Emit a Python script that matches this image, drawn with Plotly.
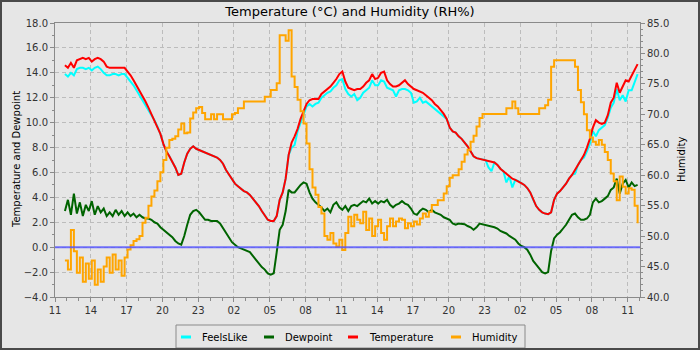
import pandas as pd
import plotly.graph_objects as go

# Weather station readings, one sample every 15 minutes
start_time = "2024-03-14 11:50"
axis_start = "2024-03-14 11:00"
axis_end = "2024-03-16 12:02"

series_names = ["FeelsLike", "Dewpoint", "Temperature", "Humidity"]
series_colors = ["#00ffff", "#006400", "#ff0000", "#ffa500"]
series_shapes = ["linear", "linear", "linear", "hv"]

temperature = [
    14.6, 14.4, 14.8, 14.4, 15.0, 15.1, 15.2, 15.1,
    15.2, 14.9, 15.1, 15.2, 15.1, 14.9, 14.5, 14.4,
    14.4, 14.4, 14.4, 14.4, 14.4, 14.1, 13.8, 13.4,
    13.0, 12.6, 12.2, 11.7, 11.2, 10.7, 10.2, 9.7,
    9.1, 8.3, 7.7, 7.3, 6.9, 6.4, 5.8, 5.9,
    6.8, 7.5, 7.9, 8.1, 7.9, 7.8, 7.7, 7.6,
    7.5, 7.4, 7.3, 7.2, 7.0, 6.7, 6.2, 5.8,
    5.4, 5.1, 4.9, 4.7, 4.5, 4.4, 4.2, 3.9,
    3.6, 3.3, 2.9, 2.5, 2.2, 2.1, 2.1, 2.5,
    3.8, 4.4, 5.5, 7.4, 8.4, 8.9, 9.5, 10.3,
    10.9, 11.5, 11.8, 11.9, 11.9, 11.9, 12.3, 12.5,
    12.7, 12.9, 13.2, 13.5, 13.9, 14.1, 13.3, 12.8,
    12.7, 12.6, 12.7, 12.7, 12.9, 13.2, 13.4, 13.9,
    13.5, 13.6, 14.0, 14.1, 13.4, 13.1, 12.9, 12.9,
    13.0, 13.2, 13.4, 13.1, 12.9, 12.7, 12.6, 12.5,
    12.4, 12.2, 12.0, 11.8, 11.5, 11.3, 11.0, 10.7,
    10.3, 9.6, 9.3, 9.2, 8.9, 8.7, 8.4, 8.1,
    7.7, 7.3, 7.15, 7.1, 7.0, 7.0, 6.9, 6.85,
    6.8, 6.6, 6.3, 6.1, 5.9, 5.7, 5.5, 5.4,
    5.3, 5.15, 5.0, 4.75, 4.4, 3.8, 3.3, 3.0,
    2.8, 2.7, 2.65, 2.8, 3.8, 4.3, 4.5, 4.8,
    5.1, 5.5, 5.8, 6.2, 6.6, 7.0, 7.4, 8.0,
    8.7, 9.6, 10.2, 10.0, 9.9, 10.0, 10.6, 11.6,
    12.0, 13.2, 12.4, 12.9, 13.4, 13.3, 13.8, 14.3,
    14.7,
]

feels_like = [
    13.9, 13.7, 14.0, 13.8, 14.3, 14.4, 14.4, 14.3,
    14.4, 14.2, 14.4, 14.5, 14.3, 14.0, 13.8, 13.8,
    13.9, 13.9, 13.8, 13.9, 13.9, 13.6, 13.3, 13.0,
    12.6, 12.2, 11.9, 11.5, 11.1, 10.7, 10.2, 9.7,
    9.1, 8.3, 7.7, 7.3, 6.9, 6.4, 5.8, 5.9,
    6.8, 7.5, 7.9, 8.1, 7.9, 7.8, 7.7, 7.6,
    7.5, 7.4, 7.3, 7.2, 7.0, 6.7, 6.2, 5.8,
    5.4, 5.1, 4.9, 4.7, 4.5, 4.4, 4.2, 3.9,
    3.6, 3.3, 2.9, 2.5, 2.2, 2.1, 2.1, 2.5,
    3.8, 4.4, 5.5, 7.4, 8.0, 8.2, 9.3, 10.0,
    10.6, 11.3, 11.5, 11.3, 11.5, 11.6, 12.0, 12.2,
    12.4, 12.5, 12.8, 13.0, 13.4, 13.5, 12.7, 12.3,
    12.1, 12.3, 11.8, 12.0, 12.4, 12.6, 12.8, 13.4,
    13.0, 13.0, 13.4, 13.3, 12.8, 12.7, 12.6, 12.1,
    12.6, 12.7, 12.7, 12.6, 12.4, 11.6, 11.7, 12.0,
    11.6, 11.7, 11.5, 11.3, 11.1, 10.9, 10.7, 10.5,
    10.3, 9.6, 9.3, 9.2, 8.9, 8.7, 8.4, 8.1,
    7.7, 7.3, 7.15, 7.1, 7.0, 7.0, 6.4, 6.1,
    6.8, 6.6, 6.3, 6.1, 5.2, 5.7, 4.8, 5.4,
    5.3, 5.15, 5.0, 4.75, 4.4, 3.8, 3.3, 3.0,
    2.8, 2.7, 2.65, 2.8, 3.8, 4.3, 4.5, 4.8,
    5.1, 5.5, 5.8, 5.9, 6.6, 7.0, 7.2, 7.7,
    8.3, 9.3, 8.9, 9.4, 9.6, 9.8, 10.4, 11.2,
    11.6, 12.7, 11.8, 12.2, 11.7, 12.6, 12.6, 13.3,
    13.9,
]

dewpoint = [
    2.9, 3.8, 2.6, 4.3, 2.7, 3.6, 2.5, 3.4,
    2.9, 3.7, 2.6, 3.3, 2.8, 3.1, 2.5, 2.8,
    2.5, 3.0, 2.6, 2.9, 2.5, 2.8, 2.5, 2.7,
    2.4, 2.6, 2.4, 2.3, 2.3, 2.2, 2.0, 1.9,
    1.6, 1.4, 1.2, 1.0, 0.8, 0.5, 0.3, 0.2,
    0.9, 1.8, 2.6, 2.9, 3.0, 2.8, 2.5, 2.2,
    2.2, 2.1, 2.1, 2.1, 1.9, 1.5, 1.2, 0.8,
    0.4, 0.2, 0.0, -0.1, -0.2, -0.3, -0.4, -0.7,
    -1.0, -1.3, -1.6, -1.8, -2.1, -2.2, -2.1, -0.4,
    1.4, 1.8, 2.9, 4.6, 4.4, 4.4, 4.7, 5.0,
    5.2, 5.1, 4.4, 3.9, 3.6, 3.4, 3.2, 2.9,
    3.1, 2.8, 3.4, 3.6, 3.2, 3.0, 3.3, 2.9,
    3.3, 3.4, 3.3, 3.5, 3.7, 3.6, 3.9, 3.5,
    3.7, 3.5, 3.7, 3.6, 3.8, 3.4, 3.2, 3.4,
    3.5, 3.7, 3.5, 3.4, 3.1, 2.7, 2.6, 2.9,
    3.1, 3.0, 2.8, 3.0, 2.8, 2.7, 2.6, 2.4,
    2.3, 2.2, 1.9, 1.8, 1.9, 1.9, 1.85, 1.7,
    1.6, 1.4, 1.6, 1.9, 1.85, 1.8, 1.75, 1.7,
    1.6, 1.5, 1.3, 1.2, 1.1, 0.9, 0.75, 0.6,
    0.3, 0.1, 0.0, -0.2, -0.6, -1.1, -1.4, -1.7,
    -2.0, -2.1, -2.0, -0.3, 0.7, 1.0, 1.2, 1.5,
    1.8, 2.2, 2.6, 2.7, 2.4, 2.2, 2.2, 2.3,
    2.6, 3.6, 3.9, 3.6, 3.7, 3.9, 4.1, 4.6,
    4.8, 5.5, 4.3, 5.1, 5.4, 4.8, 5.2, 4.9,
    5.0,
]

humidity = [
    46.0, 44.5, 51.0, 47.5, 44.0, 46.5, 42.5, 45.5,
    43.0, 46.0, 42.0, 44.5, 42.5, 45.0, 46.5, 44.0,
    47.0, 44.5, 46.0, 43.5, 46.5, 47.8, 48.5, 49.2,
    49.5, 50.0, 52.2, 53.0, 55.0, 56.5, 57.5, 59.0,
    60.5, 62.5, 64.5, 65.8, 66.0, 66.4, 67.5, 68.5,
    66.9, 67.0, 69.3, 70.3, 71.0, 71.2, 70.2, 69.2,
    69.2, 70.0, 69.2, 70.0, 70.0, 69.2, 69.2, 69.2,
    70.0, 70.2, 71.0, 71.0, 72.1, 72.1, 72.1, 72.1,
    72.1, 72.1, 72.1, 72.9, 72.9, 74.0, 74.0, 75.1,
    83.0, 83.0, 82.1, 83.8, 76.2, 74.5, 72.4, 70.5,
    68.5, 65.2, 61.0, 58.0, 56.8, 54.8, 53.7, 50.0,
    49.4, 50.5, 48.8, 48.3, 49.4, 47.7, 50.5, 53.2,
    51.6, 53.5, 52.7, 52.1, 54.0, 51.0, 52.9, 50.0,
    51.6, 52.7, 50.5, 49.4, 51.6, 52.9, 51.6, 52.4,
    52.9, 52.7, 51.3, 52.1, 51.6, 52.4, 51.9, 52.9,
    53.7, 53.2, 54.0, 55.1, 55.1, 55.9, 55.9, 57.0,
    58.2, 59.6, 60.0, 60.0, 61.0, 62.2, 63.4, 64.2,
    65.5, 66.5, 68.0, 69.4, 70.05, 70.05, 70.05, 70.05,
    70.05, 70.05, 70.05, 70.05, 71.0, 71.0, 72.1, 71.0,
    70.05, 70.05, 70.05, 70.05, 70.05, 70.05, 70.05, 71.0,
    71.0, 71.5, 72.4, 77.8, 78.9, 78.9, 78.9, 78.9,
    78.9, 78.9, 78.9, 77.8, 74.0, 72.0, 70.0, 67.4,
    66.2, 65.5, 65.0, 65.8, 65.0, 63.8, 62.5, 60.3,
    59.0, 55.9, 59.8, 58.1, 57.0, 57.85, 57.6, 55.0,
    52.1,
]

left_ticks = [-4, -2, 0, 2, 4, 6, 8, 10, 12, 14, 16, 18]
right_ticks = [40, 45, 50, 55, 60, 65, 70, 75, 80, 85]

times = pd.date_range(start_time, periods=len(temperature), freq="15min")

# Figure geometry (pixels)
W, H = 700, 350
ML, MR, MT, MB = 55, 60, 23, 53
PW, PH = W - ML - MR, H - MT - MB


def px(x):
    return (x - ML) / PW


def py(y):
    return (H - MB - y) / PH


BG = "#e6e6e6"
FONT = "DejaVu Sans"
GRID = "#bcbcbc"
AXIS = "#8a8a8a"

fig = go.Figure()
values = [feels_like, dewpoint, temperature, humidity]
axes = ["y", "y", "y", "y2"]
for name, color, shape, vals, ax in zip(series_names, series_colors,
                                        series_shapes, values, axes):
    fig.add_trace(go.Scatter(
        x=times, y=vals, name=name, mode="lines", yaxis=ax,
        line=dict(color=color, width=2, shape=shape),
        showlegend=False,
    ))

tick_font = dict(family=FONT, size=10, color="#333333")

fig.update_layout(
    width=W, height=H,
    margin=dict(l=ML, r=MR, t=MT, b=MB, pad=0),
    paper_bgcolor=BG, plot_bgcolor=BG,
    font=dict(family=FONT, size=10, color="#000000"),
    title=dict(text="Temperature (°C) and Humidity (RH%)",
               font=dict(family=FONT, size=13, color="#000000"),
               x=0.5, xref="container", xanchor="center",
               y=1 - 11 / H, yref="container", yanchor="middle"),
    xaxis=dict(
        type="date", range=[axis_start, axis_end],
        tick0=axis_start, dtick=3 * 3600 * 1000, tickformat="%H",
        ticks="outside", ticklen=4, tickcolor=AXIS, tickfont=tick_font,
        showgrid=True, gridcolor=GRID, griddash="4px,3px", gridwidth=1,
        minor=dict(dtick=3600 * 1000, ticks="outside", ticklen=3,
                   tickcolor=AXIS, showgrid=False),
        showline=True, linecolor=AXIS, linewidth=1, mirror=True,
        zeroline=False, automargin=False,
    ),
    yaxis=dict(
        range=[-4, 18], tickvals=left_ticks, tickformat=".1f",
        ticks="outside", ticklen=4, tickcolor=AXIS, tickfont=tick_font,
        showgrid=True, gridcolor=GRID, griddash="4px,3px", gridwidth=1,
        minor=dict(dtick=1, ticks="outside", ticklen=2,
                   tickcolor=AXIS, showgrid=False),
        showline=True, linecolor=AXIS, linewidth=1, mirror=True,
        zeroline=False, automargin=False,
    ),
    yaxis2=dict(
        range=[40, 85], tickvals=right_ticks, tickformat=".1f",
        overlaying="y", side="right",
        ticks="outside", ticklen=4, tickcolor=AXIS, tickfont=tick_font,
        showgrid=False,
        minor=dict(dtick=1, ticks="outside", ticklen=2,
                   tickcolor=AXIS, showgrid=False),
        showline=True, linecolor=AXIS, linewidth=1,
        zeroline=False, automargin=False,
    ),
)

shapes = [
    # zero reference line on the temperature axis
    dict(type="line", xref="paper", yref="y", x0=0, x1=1, y0=0, y1=0,
         line=dict(color="rgba(80,80,255,0.8)", width=2), layer="above"),
    # legend frame
    dict(type="rect", xref="paper", yref="paper",
         x0=px(176), x1=px(525), y0=py(348), y1=py(325),
         line=dict(color="#8a8a8a", width=1), fillcolor=BG, layer="below"),
    # outer chart border
    dict(type="rect", xref="paper", yref="paper",
         x0=px(1), x1=px(699), y0=py(349), y1=py(1),
         line=dict(color="#4a4a4a", width=2), fillcolor="rgba(0,0,0,0)",
         layer="above"),
]

annotations = [
    dict(text="Temperature and Dewpoint", textangle=-90,
         xref="paper", yref="paper", x=px(16), y=0.5,
         xanchor="center", yanchor="middle", showarrow=False,
         font=dict(family=FONT, size=10, color="#000000")),
    dict(text="Humidity", textangle=-90,
         xref="paper", yref="paper", x=px(681), y=0.5,
         xanchor="center", yanchor="middle", showarrow=False,
         font=dict(family=FONT, size=10, color="#000000")),
]

# legend row along the bottom
legend_left = [181, 264, 348, 451]
legend_y = 337
for name, color, x0 in zip(series_names, series_colors, legend_left):
    shapes.append(dict(type="line", xref="paper", yref="paper",
                       x0=px(x0), x1=px(x0 + 10), y0=py(legend_y), y1=py(legend_y),
                       line=dict(color=color, width=3)))
    annotations.append(dict(text=name, xref="paper", yref="paper",
                            x=px(x0 + 19), y=py(legend_y),
                            xanchor="left", yanchor="middle", showarrow=False,
                            font=dict(family=FONT, size=10, color="#000000")))

fig.update_layout(shapes=shapes, annotations=annotations)

fig.write_html("out.html")
